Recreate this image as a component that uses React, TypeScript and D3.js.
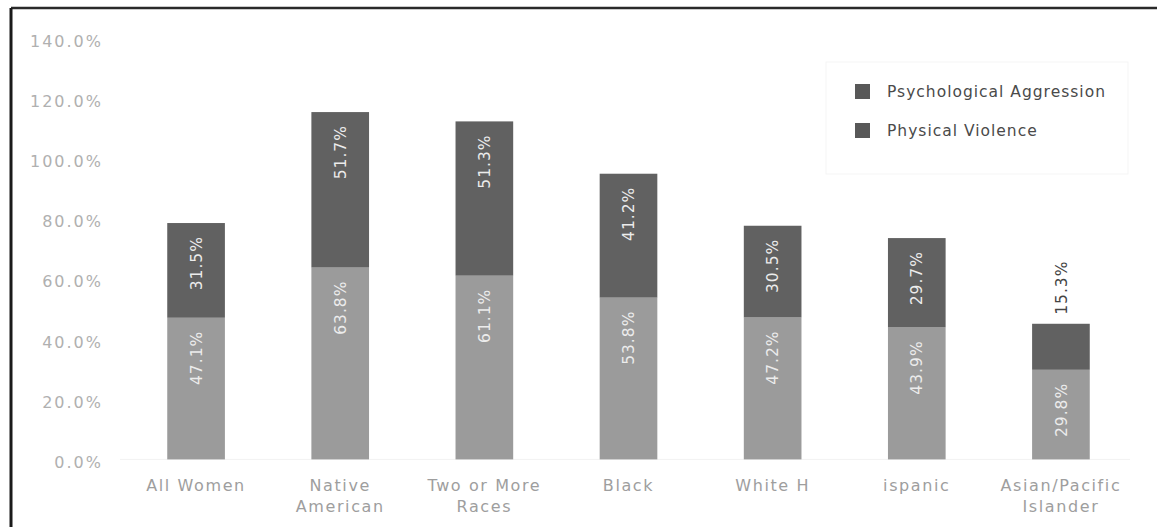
import React from "react";
import * as d3 from "d3";

const categories: string[][] = [
  ["All Women"],
  ["Native", "American"],
  ["Two or More", "Races"],
  ["Black"],
  ["White H"],
  ["ispanic"],
  ["Asian/Pacific", "Islander"],
];
const psychological: number[] = [47.1, 63.8, 61.1, 53.8, 47.2, 43.9, 29.8];
const physical: number[] = [31.5, 51.7, 51.3, 41.2, 30.5, 29.7, 15.3];
const yTicks: number[] = [0, 20, 40, 60, 80, 100, 120, 140];
const seriesNames: string[] = ["Psychological Aggression", "Physical Violence"];

const W = 1157;
const H = 527;
const FONT = "'DejaVu Sans', sans-serif";
const LIGHT = "#9b9b9b";
const DARK = "#616161";

export default function App() {
  const keys = categories.map((c) => c.join(" "));
  const x = d3.scaleBand<string>().domain(keys).range([124, 1133]).paddingInner(0.6).paddingOuter(0.3);
  const y = d3.scaleLinear().domain([0, 140]).range([459.4, 38.4]);
  const bw = x.bandwidth();

  const fmt = (v: number) => v.toFixed(1) + "%";

  return (
    <svg width={W} height={H} style={{ position: "absolute", left: 0, top: 0, background: "#fff" }}>
      <rect x={0} y={0} width={W} height={H} fill="#fff" />
      {/* frame */}
      <line x1={11} y1={8} x2={W + 5} y2={8} stroke="#2a2a2a" strokeWidth={2.5} />
      <line x1={11} y1={8} x2={11} y2={H + 5} stroke="#1a1a1a" strokeWidth={3} />

      {/* y axis labels */}
      {yTicks.map((t) => (
        <text
          key={t}
          x={103}
          y={y(t) + 3}
          textAnchor="end"
          dominantBaseline="central"
          fontFamily={FONT}
          fontSize={16}
          letterSpacing={2}
          fill="#b0b0b0"
        >
          {t.toFixed(1)}%
        </text>
      ))}

      {/* baseline */}
      <line x1={120} x2={1130} y1={y(0)} y2={y(0)} stroke="#f2f2f2" strokeWidth={1} />

      {/* bars */}
      {keys.map((k, i) => {
        const x0 = x(k) as number;
        const cx = x0 + bw / 2;
        const p = psychological[i];
        const v = physical[i];
        const yP = y(p);
        const yT = y(p + v);
        const segH = y(p) - y(p + v);
        const fitsInside = segH > 70;
        return (
          <g key={k}>
            <rect x={x0} y={yP} width={bw} height={y(0) - yP} fill={LIGHT} />
            <rect x={x0} y={yT} width={bw} height={segH} fill={DARK} />
            <text
              transform={`translate(${cx},${yP + 13}) rotate(-90)`}
              textAnchor="end"
              dy="0.36em"
              fontFamily={FONT}
              fontSize={15.5}
              letterSpacing={1}
              fill="#ececec"
            >
              {fmt(p)}
            </text>
            {fitsInside ? (
              <text
                transform={`translate(${cx},${yT + 13}) rotate(-90)`}
                textAnchor="end"
                dy="0.36em"
                fontFamily={FONT}
                fontSize={15.5}
                letterSpacing={1}
                fill="#ececec"
              >
                {fmt(v)}
              </text>
            ) : (
              <text
                transform={`translate(${cx},${yT - 9}) rotate(-90)`}
                textAnchor="start"
                dy="0.36em"
                fontFamily={FONT}
                fontSize={15.5}
                letterSpacing={1}
                fill="#444"
              >
                {fmt(v)}
              </text>
            )}
            {categories[i].map((line, j) => (
              <text
                key={j}
                x={cx}
                y={485 + j * 21}
                textAnchor="middle"
                dominantBaseline="central"
                fontFamily={FONT}
                fontSize={16}
                letterSpacing={1.6}
                fill="#9e9e9e"
              >
                {line}
              </text>
            ))}
          </g>
        );
      })}

      {/* legend */}
      <rect x={826} y={62} width={302} height={112} fill="none" stroke="#f5f5f5" strokeWidth={1} />
      {seriesNames.map((s, i) => (
        <g key={s} transform={`translate(855,${92 + i * 39})`}>
          <rect x={0} y={-8} width={15} height={15} fill="#585858" />
          <text
            x={32}
            y={0}
            dominantBaseline="central"
            fontFamily={FONT}
            fontSize={15.5}
            letterSpacing={1}
            fill="#4a4a4a"
          >
            {s}
          </text>
        </g>
      ))}
    </svg>
  );
}
